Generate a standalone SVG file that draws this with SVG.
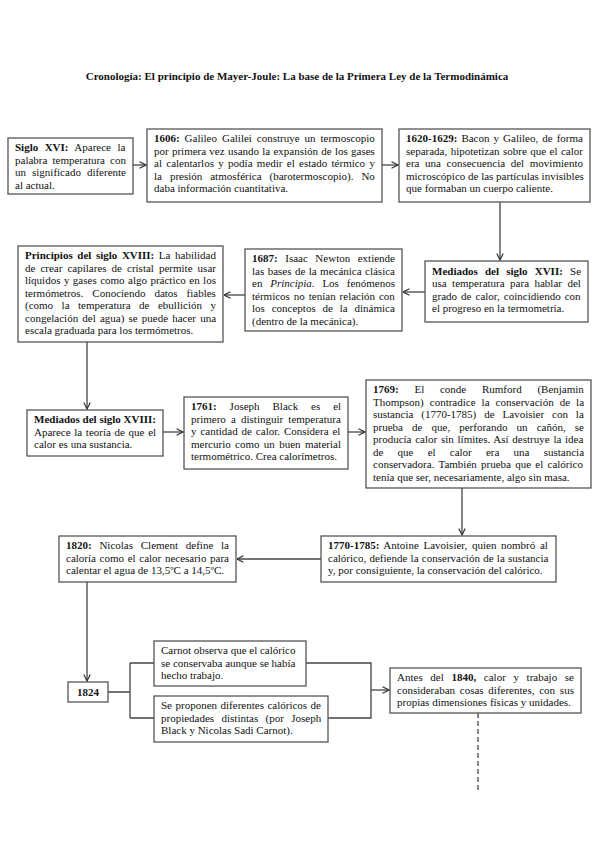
<svg xmlns="http://www.w3.org/2000/svg" width="599" height="848" viewBox="0 0 599 848">
<style>
.bx{fill:#fff;stroke:#555;stroke-width:1.3}
.t{font-family:"Liberation Serif","Times New Roman",serif;font-size:11px;fill:#111}
.b{font-weight:bold}
.i{font-style:italic}
.c{stroke:#444;stroke-width:1.3;fill:none}
.ttl{font-family:"Liberation Serif","Times New Roman",serif;font-size:11px;font-weight:bold;fill:#111}
</style>
<defs>
<marker id="ar" viewBox="0 0 8 8" refX="7.5" refY="4" markerWidth="8" markerHeight="8" markerUnits="userSpaceOnUse" orient="auto">
<path d="M1,0.8 L7.5,4 L1,7.2" fill="none" stroke="#333" stroke-width="1.2"/>
</marker>
</defs>
<rect width="599" height="848" fill="#fff"/>
<text class="ttl" x="297" y="80" text-anchor="middle">Cronología: El principio de Mayer-Joule: La base de la Primera Ley de la Termodinámica</text>

<g id="connectors">
<path class="c" d="M133,165 H146" marker-end="url(#ar)"/>
<path class="c" d="M382,165 H398" marker-end="url(#ar)"/>
<path class="c" d="M500,202 V260" marker-end="url(#ar)"/>
<path class="c" d="M425,292 H403" marker-end="url(#ar)"/>
<path class="c" d="M245,295 H224" marker-end="url(#ar)"/>
<path class="c" d="M87,342 V409" marker-end="url(#ar)"/>
<path class="c" d="M163,432 H183" marker-end="url(#ar)"/>
<path class="c" d="M348,432 H365" marker-end="url(#ar)"/>
<path class="c" d="M462,488 V535" marker-end="url(#ar)"/>
<path class="c" d="M321,559 H237" marker-end="url(#ar)"/>
<path class="c" d="M87,582 V681" marker-end="url(#ar)"/>
<path class="c" d="M108,692 H130 M130,663 V718 M130,663 H154 M130,718 H154"/>
<path class="c" d="M306,663 H371 V718 H328"/>
<path class="c" d="M371,690 H389" marker-end="url(#ar)"/>
<path class="c" d="M478,713 V793" stroke-dasharray="5 3"/>
</g>

<g id="n1">
<rect class="bx" x="8" y="138" width="125" height="56"/>
<text class="t" x="15" y="151" word-spacing="3.7"><tspan class="b">Siglo XVI:</tspan> Aparece la</text>
<text class="t" x="15" y="163.5" word-spacing="2.35">palabra temperatura con</text>
<text class="t" x="15" y="176" word-spacing="3.25">un significado diferente</text>
<text class="t" x="15" y="188.5">al actual.</text>
</g>

<g id="n2">
<rect class="bx" x="147" y="129" width="235" height="73"/>
<text class="t" x="154" y="142" word-spacing="2.2"><tspan class="b">1606:</tspan> Galileo Galilei construye un termoscopio</text>
<text class="t" x="154" y="154.5" word-spacing="0.5">por primera vez usando la expansión de los gases</text>
<text class="t" x="154" y="167" word-spacing="1.58">al calentarlos y podía medir el estado térmico y</text>
<text class="t" x="154" y="179.5" word-spacing="5.2">la presión atmosférica (barotermoscopio). No</text>
<text class="t" x="154" y="192">daba información cuantitativa.</text>
</g>

<g id="n3">
<rect class="bx" x="399" y="129" width="191" height="73"/>
<text class="t" x="406" y="142" word-spacing="1.3"><tspan class="b">1620-1629:</tspan> Bacon y Galileo, de forma</text>
<text class="t" x="406" y="154.5" word-spacing="0.7">separada, hipotetizan sobre que el calor</text>
<text class="t" x="406" y="167" word-spacing="2.85">era una consecuencia del movimiento</text>
<text class="t" x="406" y="179.5">microscópico de las partículas invisibles</text>
<text class="t" x="406" y="192">que formaban un cuerpo caliente.</text>
</g>

<g id="n4">
<rect class="bx" x="425" y="261" width="163" height="61"/>
<text class="t" x="432" y="274.5" word-spacing="4.4"><tspan class="b">Mediados del siglo XVII:</tspan> Se</text>
<text class="t" x="432" y="287" word-spacing="2.7">usa temperatura para hablar del</text>
<text class="t" x="432" y="299.5" word-spacing="1.3">grado de calor, coincidiendo con</text>
<text class="t" x="432" y="312">el progreso en la termometría.</text>
</g>

<g id="n5">
<rect class="bx" x="245" y="249" width="157" height="82"/>
<text class="t" x="252" y="262" word-spacing="4.8"><tspan class="b">1687:</tspan> Isaac Newton extiende</text>
<text class="t" x="252" y="274.5" word-spacing="0.68">las bases de la mecánica clásica</text>
<text class="t" x="252" y="287" word-spacing="5.1">en <tspan class="i">Principia</tspan>. Los fenómenos</text>
<text class="t" x="252" y="299.5" word-spacing="1.2">térmicos no tenían relación con</text>
<text class="t" x="252" y="312" word-spacing="4.1">los conceptos de la dinámica</text>
<text class="t" x="252" y="324.5">(dentro de la mecánica).</text>
</g>

<g id="n6">
<rect class="bx" x="18" y="246" width="205" height="96"/>
<text class="t" x="25" y="259" word-spacing="1.84"><tspan class="b">Principios del siglo XVIII:</tspan> La habilidad</text>
<text class="t" x="25" y="271.5" word-spacing="2.3">de crear capilares de cristal permite usar</text>
<text class="t" x="25" y="284" word-spacing="0.7">líquidos y gases como algo práctico en los</text>
<text class="t" x="25" y="296.5" word-spacing="6.2">termómetros. Conociendo datos fiables</text>
<text class="t" x="25" y="309" word-spacing="5.76">(como la temperatura de ebullición y</text>
<text class="t" x="25" y="321.5" word-spacing="1.4">congelación del agua) se puede hacer una</text>
<text class="t" x="25" y="334">escala graduada para los termómetros.</text>
</g>

<g id="n7">
<rect class="bx" x="27" y="410" width="136" height="46"/>
<text class="t b" x="34" y="423">Mediados del siglo XVIII:</text>
<text class="t" x="34" y="435.5" word-spacing="0.9">Aparece la teoría de que el</text>
<text class="t" x="34" y="448">calor es una sustancia.</text>
</g>

<g id="n8">
<rect class="bx" x="184" y="397" width="164" height="72"/>
<text class="t" x="191" y="410" word-spacing="10.2"><tspan class="b">1761:</tspan> Joseph Black es el</text>
<text class="t" x="191" y="422.5" word-spacing="2.4">primero a distinguir temperatura</text>
<text class="t" x="191" y="435" word-spacing="1.16">y cantidad de calor. Considera el</text>
<text class="t" x="191" y="447.5" word-spacing="1.6">mercurio como un buen material</text>
<text class="t" x="191" y="460">termométrico. Crea calorímetros.</text>
</g>

<g id="n9">
<rect class="bx" x="366" y="380" width="225" height="108"/>
<text class="t" x="373" y="393" word-spacing="13"><tspan class="b">1769:</tspan> El conde Rumford (Benjamin</text>
<text class="t" x="373" y="405.5" word-spacing="3.3">Thompson) contradice la conservación de la</text>
<text class="t" x="373" y="418" word-spacing="5.2">sustancia (1770-1785) de Lavoisier con la</text>
<text class="t" x="373" y="430.5" word-spacing="6.35">prueba de que, perforando un cañón, se</text>
<text class="t" x="373" y="443" word-spacing="0.99">producía calor sin límites. Así destruye la idea</text>
<text class="t" x="373" y="455.5" word-spacing="11.45">de que el calor era una sustancia</text>
<text class="t" x="373" y="468" word-spacing="1.5">conservadora. También prueba que el calórico</text>
<text class="t" x="373" y="480.5">tenía que ser, necesariamente, algo sin masa.</text>
</g>

<g id="n10">
<rect class="bx" x="321" y="536" width="235" height="46"/>
<text class="t" x="328" y="549" word-spacing="1.9"><tspan class="b">1770-1785:</tspan> Antoine Lavoisier, quien nombró al</text>
<text class="t" x="328" y="561.5" word-spacing="0.54">calórico, defiende la conservación de la sustancia</text>
<text class="t" x="328" y="574">y, por consiguiente, la conservación del calórico.</text>
</g>

<g id="n11">
<rect class="bx" x="59" y="536" width="177" height="46"/>
<text class="t" x="66" y="549" word-spacing="5"><tspan class="b">1820:</tspan> Nicolas Clement define la</text>
<text class="t" x="66" y="561.5" word-spacing="0.9">caloría como el calor necesario para</text>
<text class="t" x="66" y="574">calentar el agua de 13,5ºC a 14,5ºC.</text>
</g>

<g id="n12">
<rect class="bx" x="68" y="682" width="40" height="20"/>
<text class="t b" x="88" y="696" text-anchor="middle">1824</text>
</g>

<g id="n13">
<rect class="bx" x="154" y="641" width="152" height="45"/>
<text class="t" x="161" y="654">Carnot observa que el calórico</text>
<text class="t" x="161" y="666.5">se conservaba aunque se había</text>
<text class="t" x="161" y="679">hecho trabajo.</text>
</g>

<g id="n14">
<rect class="bx" x="154" y="696" width="174" height="46"/>
<text class="t" x="161" y="709" word-spacing="0.75">Se proponen diferentes calóricos de</text>
<text class="t" x="161" y="721.5" word-spacing="4.6">propiedades distintas (por Joseph</text>
<text class="t" x="161" y="734">Black y Nicolas Sadi Carnot).</text>
</g>

<g id="n15">
<rect class="bx" x="390" y="668" width="191" height="45"/>
<text class="t" x="397" y="681" word-spacing="4.9">Antes del <tspan class="b">1840,</tspan> calor y trabajo se</text>
<text class="t" x="397" y="693.5" word-spacing="2">consideraban cosas diferentes, con sus</text>
<text class="t" x="397" y="706">propias dimensiones físicas y unidades.</text>
</g>
</svg>
